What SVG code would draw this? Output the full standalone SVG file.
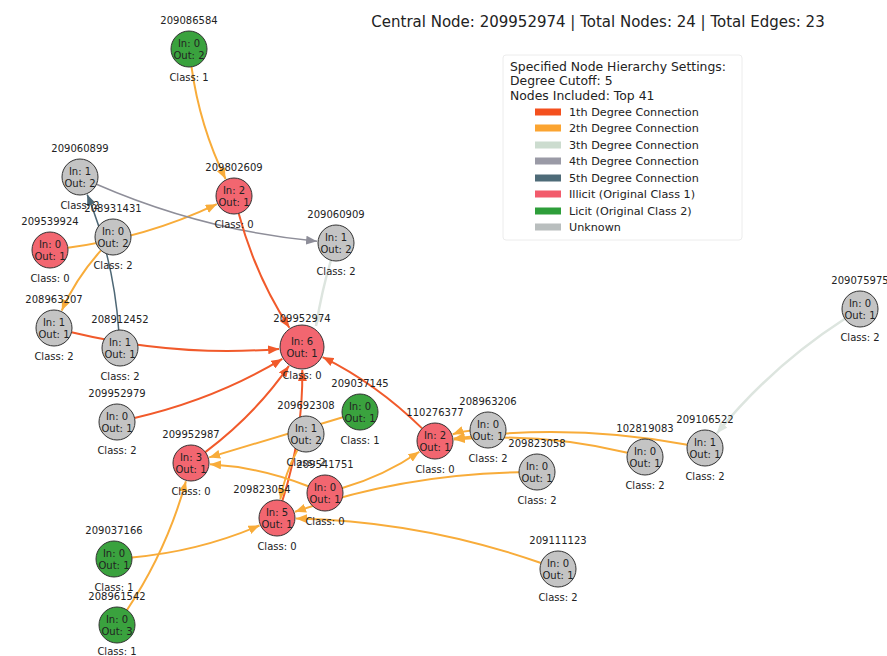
<svg xmlns="http://www.w3.org/2000/svg" width="887" height="656" viewBox="0 0 887 656">
<style>
text{font-family:"DejaVu Sans","Liberation Sans",sans-serif;fill:#222}
.io{font-size:10px;text-anchor:middle}
.lb{font-size:10px;text-anchor:middle}
.nd{stroke:#333;stroke-width:1}
.ill{fill:#f26670}.lic{fill:#3aa23e}.unk{fill:#c4c4c4}
.e{fill:none}
.r{stroke:#f15a2b;stroke-width:2}
.o{stroke:#f8ac3a;stroke-width:2}
.l{stroke:#dde5df;stroke-width:2.5}
.g{stroke:#8e8e99;stroke-width:1.5}
.s{stroke:#4d6775;stroke-width:1.5}
.lg{font-size:11.2px}
.lt{font-size:12.4px}
</style>
<defs>
<marker id="ar" markerUnits="userSpaceOnUse" markerWidth="11" markerHeight="9" viewBox="0 0 11 9" refX="11" refY="4.5" orient="auto"><path d="M0,0L11,4.5L0,9z" fill="#f15a2b"/></marker>
<marker id="ao" markerUnits="userSpaceOnUse" markerWidth="11" markerHeight="9" viewBox="0 0 11 9" refX="11" refY="4.5" orient="auto"><path d="M0,0L11,4.5L0,9z" fill="#f8ac3a"/></marker>
<marker id="al" markerUnits="userSpaceOnUse" markerWidth="11" markerHeight="9" viewBox="0 0 11 9" refX="11" refY="4.5" orient="auto"><path d="M0,0L11,4.5L0,9z" fill="#dde5df"/></marker>
<marker id="ag" markerUnits="userSpaceOnUse" markerWidth="11" markerHeight="9" viewBox="0 0 11 9" refX="11" refY="4.5" orient="auto"><path d="M0,0L11,4.5L0,9z" fill="#8e8e99"/></marker>
<marker id="as" markerUnits="userSpaceOnUse" markerWidth="11" markerHeight="9" viewBox="0 0 11 9" refX="11" refY="4.5" orient="auto"><path d="M0,0L11,4.5L0,9z" fill="#4d6775"/></marker>
</defs>
<rect width="887" height="656" fill="#fff"/>
<text x="598" y="27" font-size="15" text-anchor="middle">Central Node: 209952974 | Total Nodes: 24 | Total Edges: 23</text>

<g id="legend">
<rect x="503" y="55" width="239" height="185" rx="3" fill="#fff" stroke="#ececec"/>
<text class="lt" x="510" y="71">Specified Node Hierarchy Settings:</text>
<text class="lt" x="510" y="85">Degree Cutoff: 5</text>
<text class="lt" x="510" y="100">Nodes Included: Top 41</text>
<rect x="535" y="108.5" width="26" height="7" fill="#f4501e"/><text class="lg" x="569" y="116">1th Degree Connection</text>
<rect x="535" y="124.5" width="26" height="7" fill="#fba431"/><text class="lg" x="569" y="132">2th Degree Connection</text>
<rect x="535" y="141.5" width="26" height="7" fill="#ccdccf"/><text class="lg" x="569" y="149">3th Degree Connection</text>
<rect x="535" y="157.5" width="26" height="7" fill="#9a9aa6"/><text class="lg" x="569" y="165">4th Degree Connection</text>
<rect x="535" y="174.5" width="26" height="7" fill="#4e6b78"/><text class="lg" x="569" y="182">5th Degree Connection</text>
<rect x="535" y="190.5" width="26" height="7" fill="#f25b6c"/><text class="lg" x="569" y="198">Illicit (Original Class 1)</text>
<rect x="535" y="207.5" width="26" height="7" fill="#2e9e3a"/><text class="lg" x="569" y="215">Licit (Original Class 2)</text>
<rect x="535" y="223.5" width="26" height="7" fill="#b9bebe"/><text class="lg" x="569" y="231">Unknown</text>
</g>

<g id="edges">
<path class="e o" d="M191.5,66.8 Q199.7,126.1 225.6,179" marker-end="url(#ao)"/>
<path class="e o" d="M67.9,247.7 Q146.3,237.7 216.8,204.2" marker-end="url(#ao)"/>
<path class="e g" d="M96.5,184.2 Q202.7,230.5 317.1,241.2" marker-end="url(#ag)"/>
<path class="e s" d="M118.7,330 Q113.7,259.3 87.2,194.6" marker-end="url(#as)"/>
<path class="e o" d="M101,250.4 Q76.2,277.8 61.7,310.6" marker-end="url(#ao)"/>
<path class="e r" d="M71.5,332.2 Q176.5,357.3 279.1,348.9" marker-end="url(#ar)"/>
<path class="e r" d="M238.7,213.4 Q255.9,276.9 289.4,327.8" marker-end="url(#ar)"/>
<path class="e l" d="M331,260 Q322,290 316,326" marker-end="url(#al)"/>
<path class="e r" d="M134.5,418 Q215.5,399.3 282.3,358.9" marker-end="url(#ar)"/>
<path class="e r" d="M205.3,452.1 Q255.8,413.9 288.9,365.9" marker-end="url(#ar)"/>
<path class="e r" d="M282.4,500.8 Q303.2,434.5 302.3,370" marker-end="url(#ar)"/>
<path class="e o" d="M297.5,449.9 Q284.8,473.7 280.3,499.3" marker-end="url(#ao)"/>
<path class="e r" d="M422.1,428.4 Q376,383.4 322.6,357.1" marker-end="url(#ar)"/>
<path class="e o" d="M342.8,417.2 L209.2,457.4" marker-end="url(#ao)"/>
<path class="e o" d="M308.3,486.3 Q260.4,467.3 210,464.2" marker-end="url(#ao)"/>
<path class="e o" d="M342.3,488 Q384.2,475.8 419.3,451.7" marker-end="url(#ao)"/>
<path class="e o" d="M519,472.3 Q403.3,474.2 295,511.8" marker-end="url(#ao)"/>
<path class="e o" d="M541,563 Q421.6,521 296,518.4" marker-end="url(#ao)"/>
<path class="e o" d="M470,430.8 Q460.6,431.3 452.8,434.3" marker-end="url(#ao)"/>
<path class="e o" d="M627.5,452.8 Q541.3,432.2 453.9,439.4" marker-end="url(#ao)"/>
<path class="e o" d="M687.3,444.7 Q570.6,422.9 453.8,438.5" marker-end="url(#ao)"/>
<path class="e l" d="M844.9,318.8 Q771.4,366.1 717,433.2" marker-end="url(#al)"/>
<path class="e o" d="M131.9,557.4 Q198.8,551.5 259.5,525.5" marker-end="url(#ao)"/>
<path class="e o" d="M127,610 Q167,549.9 185.9,481.3" marker-end="url(#ao)"/>
</g>

<g id="n209086584"><circle class="nd lic" cx="189" cy="49" r="18"/><text class="io" x="189" y="46.6">In: 0</text><text class="io" x="189" y="58.6">Out: 2</text><text class="lb" x="189" y="23.5">209086584</text><text class="lb" x="189" y="81">Class: 1</text></g>
<g id="n209802609"><circle class="nd ill" cx="234" cy="196" r="18"/><text class="io" x="234" y="193.6">In: 2</text><text class="io" x="234" y="205.6">Out: 1</text><text class="lb" x="234" y="170.5">209802609</text><text class="lb" x="234" y="228">Class: 0</text></g>
<g id="n209060899"><circle class="nd unk" cx="80" cy="177" r="18"/><text class="io" x="80" y="174.6">In: 1</text><text class="io" x="80" y="186.6">Out: 2</text><text class="lb" x="80" y="151.5">209060899</text><text class="lb" x="80" y="209">Class: 2</text></g>
<g id="n208931431"><circle class="nd unk" cx="113" cy="237" r="18"/><text class="io" x="113" y="234.6">In: 0</text><text class="io" x="113" y="246.6">Out: 2</text><text class="lb" x="113" y="211.5">208931431</text><text class="lb" x="113" y="269">Class: 2</text></g>
<g id="n209539924"><circle class="nd ill" cx="50" cy="250" r="18"/><text class="io" x="50" y="247.6">In: 0</text><text class="io" x="50" y="259.6">Out: 1</text><text class="lb" x="50" y="224.5">209539924</text><text class="lb" x="50" y="282">Class: 0</text></g>
<g id="n209060909"><circle class="nd unk" cx="336" cy="243" r="18"/><text class="io" x="336" y="240.6">In: 1</text><text class="io" x="336" y="252.6">Out: 2</text><text class="lb" x="336" y="217.5">209060909</text><text class="lb" x="336" y="275">Class: 2</text></g>
<g id="n208963207"><circle class="nd unk" cx="54" cy="328" r="18"/><text class="io" x="54" y="325.6">In: 1</text><text class="io" x="54" y="337.6">Out: 1</text><text class="lb" x="54" y="302.5">208963207</text><text class="lb" x="54" y="360">Class: 2</text></g>
<g id="n208912452"><circle class="nd unk" cx="120" cy="348" r="18"/><text class="io" x="120" y="345.6">In: 1</text><text class="io" x="120" y="357.6">Out: 1</text><text class="lb" x="120" y="322.5">208912452</text><text class="lb" x="120" y="380">Class: 2</text></g>
<g id="n209952974"><circle class="nd ill" cx="302" cy="347" r="22"/><text class="io" x="302" y="344.6">In: 6</text><text class="io" x="302" y="356.6">Out: 1</text><text class="lb" x="302" y="321.5">209952974</text><text class="lb" x="302" y="379">Class: 0</text></g>
<g id="n209952979"><circle class="nd unk" cx="117" cy="422" r="18"/><text class="io" x="117" y="419.6">In: 0</text><text class="io" x="117" y="431.6">Out: 1</text><text class="lb" x="117" y="396.5">209952979</text><text class="lb" x="117" y="454">Class: 2</text></g>
<g id="n209037145"><circle class="nd lic" cx="360" cy="412" r="18"/><text class="io" x="360" y="409.6">In: 0</text><text class="io" x="360" y="421.6">Out: 1</text><text class="lb" x="360" y="386.5">209037145</text><text class="lb" x="360" y="444">Class: 1</text></g>
<g id="n209692308"><circle class="nd unk" cx="306" cy="434" r="18"/><text class="io" x="306" y="431.6">In: 1</text><text class="io" x="306" y="443.6">Out: 2</text><text class="lb" x="306" y="408.5">209692308</text><text class="lb" x="306" y="466">Class: 2</text></g>
<g id="n209952987"><circle class="nd ill" cx="191" cy="463" r="18"/><text class="io" x="191" y="460.6">In: 3</text><text class="io" x="191" y="472.6">Out: 1</text><text class="lb" x="191" y="437.5">209952987</text><text class="lb" x="191" y="495">Class: 0</text></g>
<g id="n209541751"><circle class="nd ill" cx="325" cy="493" r="18"/><text class="io" x="325" y="490.6">In: 0</text><text class="io" x="325" y="502.6">Out: 1</text><text class="lb" x="325" y="467.5">209541751</text><text class="lb" x="325" y="525">Class: 0</text></g>
<g id="n209823054"><circle class="nd ill" cx="277" cy="518" r="18"/><text class="io" x="277" y="515.6">In: 5</text><text class="io" x="277" y="527.6">Out: 1</text><text class="lb" x="262" y="492.5">209823054</text><text class="lb" x="277" y="550">Class: 0</text></g>
<g id="n110276377"><circle class="nd ill" cx="435" cy="441" r="18"/><text class="io" x="435" y="438.6">In: 2</text><text class="io" x="435" y="450.6">Out: 1</text><text class="lb" x="435" y="415.5">110276377</text><text class="lb" x="435" y="473">Class: 0</text></g>
<g id="n208963206"><circle class="nd unk" cx="488" cy="430" r="18"/><text class="io" x="488" y="427.6">In: 0</text><text class="io" x="488" y="439.6">Out: 1</text><text class="lb" x="488" y="404.5">208963206</text><text class="lb" x="488" y="462">Class: 2</text></g>
<g id="n209823058"><circle class="nd unk" cx="537" cy="472" r="18"/><text class="io" x="537" y="469.6">In: 0</text><text class="io" x="537" y="481.6">Out: 1</text><text class="lb" x="537" y="446.5">209823058</text><text class="lb" x="537" y="504">Class: 2</text></g>
<g id="n102819083"><circle class="nd unk" cx="645" cy="457" r="18"/><text class="io" x="645" y="454.6">In: 0</text><text class="io" x="645" y="466.6">Out: 1</text><text class="lb" x="645" y="431.5">102819083</text><text class="lb" x="645" y="489">Class: 2</text></g>
<g id="n209106522"><circle class="nd unk" cx="705" cy="448" r="18"/><text class="io" x="705" y="445.6">In: 1</text><text class="io" x="705" y="457.6">Out: 1</text><text class="lb" x="705" y="422.5">209106522</text><text class="lb" x="705" y="480">Class: 2</text></g>
<g id="n209075975"><circle class="nd unk" cx="860" cy="309" r="18"/><text class="io" x="860" y="306.6">In: 0</text><text class="io" x="860" y="318.6">Out: 1</text><text class="lb" x="860" y="283.5">209075975</text><text class="lb" x="860" y="341">Class: 2</text></g>
<g id="n209037166"><circle class="nd lic" cx="114" cy="559" r="18"/><text class="io" x="114" y="556.6">In: 0</text><text class="io" x="114" y="568.6">Out: 1</text><text class="lb" x="114" y="533.5">209037166</text><text class="lb" x="114" y="591">Class: 1</text></g>
<g id="n208961542"><circle class="nd lic" cx="117" cy="625" r="18"/><text class="io" x="117" y="622.6">In: 0</text><text class="io" x="117" y="634.6">Out: 3</text><text class="lb" x="117" y="599.5">208961542</text><text class="lb" x="117" y="655">Class: 1</text></g>
<g id="n209111123"><circle class="nd unk" cx="558" cy="569" r="18"/><text class="io" x="558" y="566.6">In: 0</text><text class="io" x="558" y="578.6">Out: 1</text><text class="lb" x="558" y="543.5">209111123</text><text class="lb" x="558" y="601">Class: 2</text></g>
</svg>
